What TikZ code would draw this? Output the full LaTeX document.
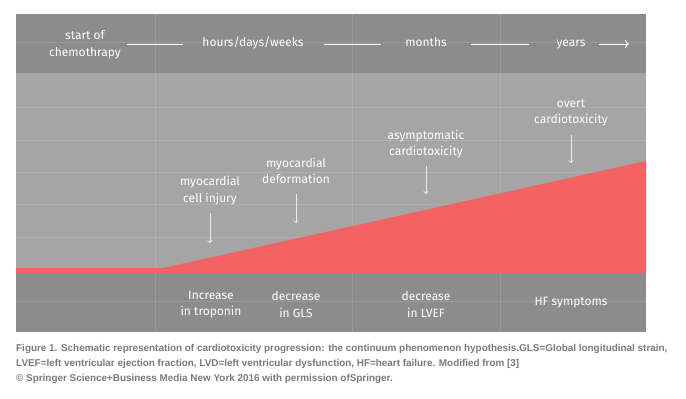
\documentclass[tikz,border=0pt]{standalone}
\usepackage{fontspec}
\usetikzlibrary{arrows.meta}
\setmainfont{Fira Sans}
\newfontfamily\capfont{Liberation Sans}
\definecolor{bandgray}{HTML}{8C8C8C}
\definecolor{midgray}{HTML}{A5A5A5}
\definecolor{redfill}{HTML}{F56262}
\definecolor{capgray}{HTML}{7A7A7A}
\begin{document}
\begin{tikzpicture}[x=1pt,y=-1pt,
  lbl/.style={text=white,font=\fontsize{12}{16.5}\selectfont,align=center,inner sep=0pt},
  one/.style={lbl,text height=8.5pt,text depth=3pt},
  tl/.style={white,line width=0.9pt},
  pt/.style={white!85!gray,line width=0.7pt,-{To[length=3pt,width=5pt]}},
  gridl/.style={white,opacity=0.13,line width=0.6pt},
  captext/.style={text=capgray,font=\capfont\bfseries\fontsize{9.9}{15}\selectfont,anchor=west,inner sep=0pt}]
\useasboundingbox (0,0) rectangle (686,399);
\fill[white] (0,0) rectangle (686,399);
% bands
\fill[bandgray] (16,14) rectangle (646,73);
\fill[midgray] (16,73) rectangle (646,273);
\fill[bandgray] (16,273) rectangle (646,332);
% grid
\foreach \yy in {42,107,140,172,204,237,301}
  \draw[gridl] (16,\yy) -- (646,\yy);
\foreach \xx in {155,352,500}
  \draw[gridl] (\xx,14) -- (\xx,332);
% red area
\fill[redfill] (16,273) -- (16,268) -- (163,268) -- (646,161) -- (646,273) -- cycle;
% timeline
\node[lbl] (t0) at (85,45) {start of\\chemothrapy};
\node[one] (t1) at (253,44) {hours/days/weeks};
\node[one] (t2) at (426,44) {months};
\node[one] (t3) at (571,44) {years};
\coordinate (tstart) at (599,44);
\coordinate (tend) at (629,44);
\draw[tl] (127,44) -- (183,44);
\draw[tl] (324,44) -- (381,44);
\draw[tl] (471,44) -- (529,44);
\draw[tl,-{To[length=4pt,width=8pt]}] (tstart) -- (tend);
% stage labels
\node[lbl] (s1) at (210,190.5) {myocardial\\cell injury};
\node[lbl] (s2) at (296,171) {myocardial\\deformation};
\node[lbl] (s3) at (426,144) {asymptomatic\\cardiotoxicity};
\node[lbl] (s4) at (571,113) {overt\\cardiotoxicity};
\coordinate (e1) at (210,243);
\coordinate (e2) at (296,223);
\coordinate (e3) at (426,194);
\coordinate (e4) at (571,163);
\draw[pt] (210,213) -- (e1);
\draw[pt] (296,194) -- (e2);
\draw[pt] (426,166) -- (e3);
\draw[pt] (571,135) -- (e4);
% bottom markers
\node[lbl] (b1) at (211,304.5) {Increase\\in troponin};
\node[lbl] (b2) at (296,304.5) {decrease\\in GLS};
\node[lbl] (b3) at (426,304.5) {decrease\\in LVEF};
\node[one] (b4) at (571,303) {HF symptoms};
% caption
\node[captext] (c1) at (16,349) {Figure 1. Schematic representation of cardiotoxicity progression: the continuum phenomenon hypothesis.GLS=Global longitudinal strain,};
\node[captext] (c2) at (16,364) {LVEF=left ventricular ejection fraction, LVD=left ventricular dysfunction, HF=heart failure. Modified from [3]};
\node[captext] (c3) at (16,379) {© Springer Science+Business Media New York 2016 with permission ofSpringer.};
\end{tikzpicture}
\end{document}
